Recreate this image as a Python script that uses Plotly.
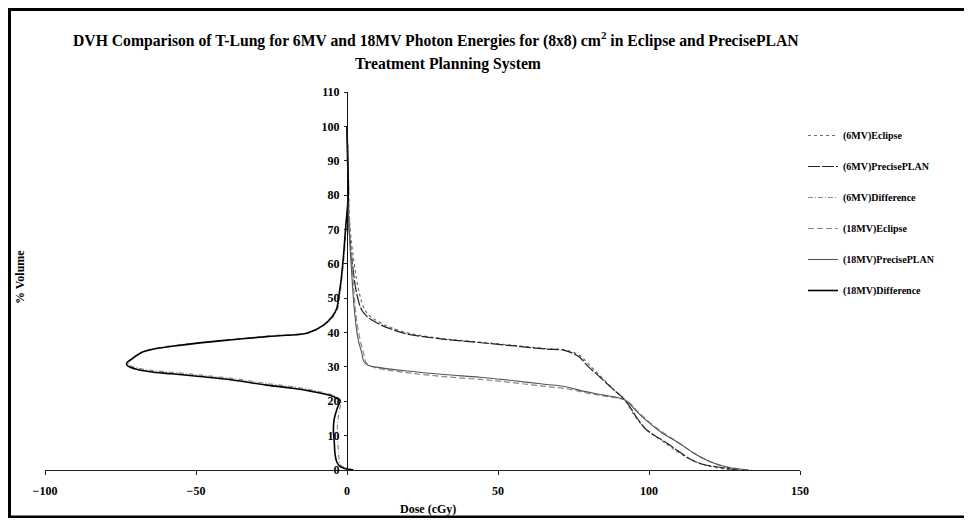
import plotly.graph_objects as go

# ---------------- data (dose in cGy, volume in %) ----------------
series_names = ["(6MV)Eclipse", "(6MV)PrecisePLAN", "(6MV)Difference",
                "(18MV)Eclipse", "(18MV)PrecisePLAN", "(18MV)Difference"]

e6_dose = [0, 0.4, 0.9, 2.4, 4.2, 5.8, 7.2, 9, 12, 15, 21, 32, 44, 56, 66, 72.5, 77, 80.5, 84.5, 88.5,
           92, 95.5, 98.5, 101.5, 105, 109, 113, 117, 121, 125, 128.5]
e6_vol = [100, 90, 72, 60, 51, 46.8, 45, 43.9, 42.4, 41.3, 39.7, 38.2, 37.2, 36.2, 35.3, 34.9, 33.3, 30.3, 26.8, 23.2,
          20.3, 15.5, 12.3, 10.2, 8.1, 5.6, 3.4, 1.9, 0.9, 0.3, 0]

p6_dose = [0, 0.3, 0.6, 1.8, 3.2, 4.9, 6.5, 8.1, 11, 14, 19.9, 31.7, 43.6, 55.4, 66, 72, 76.7, 80, 83.8, 88,
           92, 96, 99, 102, 106, 110, 114, 118, 123.5, 127, 130]
p6_vol = [100, 90, 72, 60, 51.4, 46.5, 44.8, 43.7, 42.3, 41.2, 39.6, 38.1, 37.1, 36.1, 35.2, 34.8, 33, 30, 27, 23.6,
          20.4, 15.2, 11.8, 10, 7.8, 5.3, 3, 1.6, 0.8, 0.3, 0]

d6_dose = [0, 0.2, 0.5, -0.3, -1, -1.8, -2.5, -3.1, -4.6, -7.5, -12.5, -19.5, -26, -37.5, -48, -57.5, -63.5, -67,
           -70.5, -72.3, -72, -69.5, -64.8, -57.5, -48.2, -37.5, -26, -17.5, -10.8, -5.5, -3, -2, -2.2, -2.5,
           -3, -3.2, -3, -2.8, -2.5, -1.8, -0.6, 3]
d6_vol = [100, 90, 80, 70, 62, 55, 50, 47, 44.6, 42.2, 40, 39.4, 39, 38.1, 37.2, 36.2, 35.4, 34.6, 32.7, 31.2,
          30.4, 29.7, 29, 28.4, 27.6, 26.6, 25.1, 24.2, 23.1, 22, 21, 20.2, 18.5, 17.5, 14.5, 11.6, 8, 4.9,
          2.4, 1.2, 0.6, 0]

e18_dose = [0, 0.4, 0.8, 1.8, 3, 4.3, 5.5, 6.3, 8, 12, 21, 33, 45, 53, 61, 67, 73, 80, 86, 92.5,
            96.5, 100, 105, 110.5, 115.5, 119.5, 123.5, 127, 131, 134]
e18_vol = [100, 88, 72, 58, 45, 38, 34, 31.3, 30.2, 29.3, 28.2, 27.1, 26.3, 25.6, 24.8, 24.2, 23.6, 22.3, 21.4, 20.2,
           16.8, 14, 10.7, 7.5, 4.6, 2.7, 1.4, 0.7, 0.2, 0]

p18_dose = [0, 0.3, 0.6, 1.5, 2.6, 3.7, 4.9, 5.6, 7, 10.9, 20, 32, 44, 52, 60, 66, 72, 79, 85, 92,
            96, 99, 104, 110, 115, 119, 123, 126, 130, 133]
p18_vol = [100, 88, 72, 58, 45, 38, 34, 31.5, 30.5, 29.8, 28.8, 27.8, 27, 26.3, 25.5, 24.9, 24.3, 22.8, 21.8, 20.4,
           17, 14.5, 11, 7.8, 4.8, 2.9, 1.5, 0.8, 0.3, 0]

d18_dose = [0, 0.2, 0.4, -0.5, -1.2, -2, -2.8, -3.4, -5, -8, -13.3, -20, -26.6, -38, -48.7, -58, -64, -67.5,
            -71, -73, -72.5, -70, -65.2, -58, -48.7, -38, -26.6, -18, -11.2, -6, -3.4, -2.3, -3, -3.4,
            -4.3, -4.5, -4.2, -4, -3.4, -2.5, -1.2, 2]
d18_vol = [100, 90, 80, 70, 62, 55, 50, 47, 44.5, 42, 39.8, 39.2, 38.8, 37.9, 37, 36, 35.2, 34.4, 32.5, 31,
           30.2, 29.4, 28.6, 28, 27.2, 26.2, 24.7, 23.8, 22.8, 21.8, 20.9, 20.2, 18.5, 17.5, 14.5, 11.6, 8, 4.9,
           2.4, 1.2, 0.6, 0]

x_ticks = [-100, -50, 0, 50, 100, 150]
y_ticks = list(range(0, 111, 10))

title_line1 = "DVH Comparison of T-Lung for 6MV and 18MV Photon Energies for (8x8) cm<sup>2</sup> in Eclipse and PrecisePLAN"
title_line2 = "Treatment Planning System"
x_title = "Dose (cGy)"
y_title = "% Volume"

# ---------------- styling ----------------
FONT = "Liberation Serif"
styles = [
    dict(color="#6e6e6e", width=1.2, dash="dot"),
    dict(color="#222222", width=1.2, dash="12px,2px"),
    dict(color="#8a8a8a", width=1.2, dash="5px,2px,1px,2px"),
    dict(color="#8a8a8a", width=1.2, dash="6px,3px"),
    dict(color="#555555", width=1.1, dash="solid"),
    dict(color="#000000", width=1.6, dash="solid"),
]
data_pairs = [(e6_dose, e6_vol), (p6_dose, p6_vol), (d6_dose, d6_vol),
              (e18_dose, e18_vol), (p18_dose, p18_vol), (d18_dose, d18_vol)]

fig = go.Figure()
for i, (name, (xs, ys), st) in enumerate(zip(series_names, data_pairs, styles)):
    assert len(xs) == len(ys), name
    fig.add_trace(go.Scatter(x=xs, y=ys, mode="lines", name=name, line=st,
                             legendgroup=f"g{i}", line_shape="spline"))

# page has an 8px body margin: figure coords = page coords - 8
OFF = 8
W, H = 964, 510
# plot area in page pixels: x 45..800, y 92..470
PL, PR, PT, PB = 45, 800, 92, 470
L, R, T, B = PL - OFF, PR - OFF, PT - OFF, PB - OFF
pw, ph = R - L, B - T

def px(page_x):
    return (page_x - PL) / pw

def py(page_y):
    return (PB - page_y) / ph

tick_font = dict(family=FONT, size=12, color="#000", weight="bold")

fig.update_layout(
    width=W, height=H,
    margin=dict(l=L, r=W - R, t=T, b=H - B, pad=0),
    paper_bgcolor="white", plot_bgcolor="white",
    showlegend=True,
    legend=dict(x=px(803), y=py(121), xanchor="left", yanchor="top",
                font=dict(family=FONT, size=10, color="#000", weight="bold"),
                tracegroupgap=12, itemwidth=30, bgcolor="rgba(0,0,0,0)"),
    xaxis=dict(range=[-100, 150], tickvals=x_ticks, ticks="outside", ticklen=4, tickcolor="#222",
               showline=True, linecolor="#222", linewidth=1.2, showgrid=False, zeroline=False,
               tickfont=tick_font, ticklabelstandoff=5),
    yaxis=dict(range=[0, 110], tickvals=y_ticks, ticks="outside", ticklen=3, tickcolor="#222",
               showline=True, linecolor="#111", linewidth=1.2, showgrid=False, zeroline=False,
               anchor="free", position=px(347), tickfont=tick_font, ticklabelstandoff=2),
    annotations=[
        dict(text=title_line1, x=px(436), y=py(40), xref="paper", yref="paper", showarrow=False,
             font=dict(family=FONT, size=15.7, color="#000", weight="bold"), xanchor="center", yanchor="middle"),
        dict(text=title_line2, x=px(448), y=py(64), xref="paper", yref="paper", showarrow=False,
             font=dict(family=FONT, size=15.7, color="#000", weight="bold"), xanchor="center", yanchor="middle"),
        dict(text=x_title, x=px(428), y=py(509), xref="paper", yref="paper", showarrow=False,
             font=dict(family=FONT, size=12, color="#000", weight="bold"), xanchor="center", yanchor="middle"),
        dict(text=y_title, x=px(20), y=py(277), xref="paper", yref="paper", showarrow=False, textangle=-90,
             font=dict(family=FONT, size=12, color="#000", weight="bold"), xanchor="center", yanchor="middle"),
    ],
    shapes=[
        dict(type="rect", xref="paper", yref="paper", x0=px(9.5), x1=px(966), y0=py(517), y1=py(9.5),
             line=dict(color="#000", width=3), fillcolor="rgba(0,0,0,0)", layer="below"),
    ],
)

fig.write_html("out.html")
